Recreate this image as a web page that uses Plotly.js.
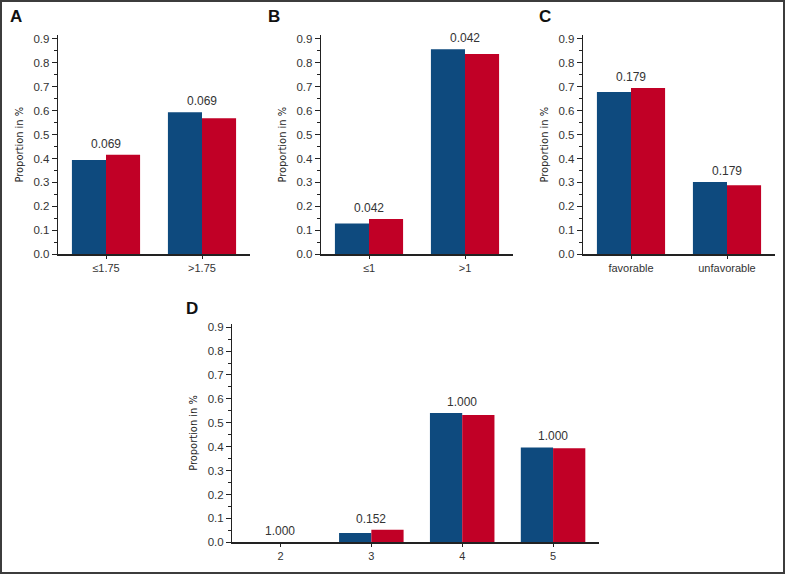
<!DOCTYPE html>
<html>
<head>
<meta charset="utf-8">
<script src="https://cdn.plot.ly/plotly-3.0.1.min.js"></script>
<style>html,body{margin:0;padding:0;background:#fff;}</style>
</head>
<body>
<div id="chart" style="width:785px;height:574px;"></div>
<script>
// ---- data ----
var catsA = ['\u22641.75', '>1.75'];
var blueA = [0.394, 0.593];
var redA  = [0.416, 0.568];
var pA    = ['0.069', '0.069'];

var catsB = ['\u22641', '>1'];
var blueB = [0.129, 0.856];
var redB  = [0.147, 0.836];
var pB    = ['0.042', '0.042'];

var catsC = ['favorable', 'unfavorable'];
var blueC = [0.677, 0.302];
var redC  = [0.694, 0.288];
var pC    = ['0.179', '0.179'];

var catsD = ['2', '3', '4', '5'];
var blueD = [0.000, 0.039, 0.541, 0.397];
var redD  = [0.000, 0.053, 0.533, 0.393];
var pD    = ['1.000', '0.152', '1.000', '1.000'];

var panelLetters = ['A', 'B', 'C', 'D'];
var yTitle = 'Proportion in %';

// ---- styles ----
var BLUE = 'rgb(14,74,126)';
var RED = 'rgb(193,0,38)';
var W = 785, H = 574;
var FONT = 'Liberation Sans, Arial, Helvetica, sans-serif';
var NARROW = 'DejaVu Sans Condensed, DejaVu Sans, sans-serif';

var panels = [
  {cats: catsA, blue: blueA, red: redA, p: pA, xs: '', x0: 58, x1: 250, yb: 254.3, yt: 35.1, xr: [-0.5, 1.5], letter: [16, 17]},
  {cats: catsB, blue: blueB, red: redB, p: pB, xs: '2', x0: 321, x1: 513, yb: 254.3, yt: 35.1, xr: [-0.5, 1.5], letter: [274, 17]},
  {cats: catsC, blue: blueC, red: redC, p: pC, xs: '3', x0: 583, x1: 775, yb: 254.3, yt: 35.1, xr: [-0.5, 1.5], letter: [545, 17]},
  {cats: catsD, blue: blueD, red: redD, p: pD, xs: '4', x0: 232.3, x1: 598.5, yb: 542.3, yt: 323.6, xr: [-0.53, 3.5], letter: [192, 308]}
];

var data = [];
var annotations = [];
var layout = {
  width: W, height: H,
  margin: {l: 0, r: 0, t: 0, b: 0},
  paper_bgcolor: '#fff', plot_bgcolor: '#fff',
  barmode: 'group', bargap: 0.29, bargroupgap: 0,
  showlegend: false,
  font: {family: FONT, size: 11, color: '#222'},
  shapes: [{type: 'rect', xref: 'paper', yref: 'paper', x0: 1 / W, x1: 1 - 1 / W, y0: 1 / H, y1: 1 - 1 / H,
            line: {color: '#3c3c3c', width: 2}, fillcolor: 'rgba(0,0,0,0)'}],
  annotations: annotations
};

panels.forEach(function (P, i) {
  var xa = 'x' + P.xs, ya = 'y' + P.xs;
  data.push({type: 'bar', x: P.cats, y: P.blue, xaxis: xa, yaxis: ya, marker: {color: BLUE}, hoverinfo: 'x+y'});
  data.push({type: 'bar', x: P.cats, y: P.red, xaxis: xa, yaxis: ya, marker: {color: RED}, hoverinfo: 'x+y'});
  layout['xaxis' + P.xs] = {
    domain: [P.x0 / W, P.x1 / W], anchor: ya, type: 'category', range: P.xr,
    showline: true, linecolor: '#222', linewidth: 1.3, mirror: false,
    ticks: 'outside', ticklen: 3, tickcolor: '#222', tickwidth: 1,
    showgrid: false, zeroline: false, fixedrange: true,
    tickfont: {family: FONT, size: 11, color: '#333'}
  };
  layout['yaxis' + P.xs] = {
    domain: [(H - P.yb) / H, (H - P.yt) / H], anchor: xa, range: [0, 0.915],
    dtick: 0.1, tick0: 0, tickformat: '.1f',
    showline: true, linecolor: '#222', linewidth: 1.3,
    ticks: 'outside', ticklen: 5, tickcolor: '#222', tickwidth: 1,
    minor: {ticks: 'outside', ticklen: 3, dtick: 0.05, tick0: 0, tickcolor: '#222', tickwidth: 1},
    showgrid: false, zeroline: false, fixedrange: true,
    tickfont: {family: FONT, size: 11.5, color: '#333'},
    title: {text: yTitle, font: {family: NARROW, size: 11, color: '#222', stretch: 'condensed'}, standoff: 7}
  };
  P.cats.forEach(function (c, k) {
    annotations.push({
      xref: xa, yref: ya, x: k, y: Math.max(P.blue[k], P.red[k]),
      text: P.p[k], showarrow: false, yanchor: 'bottom', yshift: 2,
      font: {family: FONT, size: 12, color: '#333'}
    });
  });
  annotations.push({
    xref: 'paper', yref: 'paper', x: P.letter[0] / W, y: 1 - P.letter[1] / H,
    text: '<b>' + panelLetters[i] + '</b>', showarrow: false,
    xanchor: 'center', yanchor: 'middle',
    font: {family: FONT, size: 17, color: '#111'}
  });
});

Plotly.newPlot('chart', data, layout, {displayModeBar: false, staticPlot: true});
</script>
</body>
</html>
